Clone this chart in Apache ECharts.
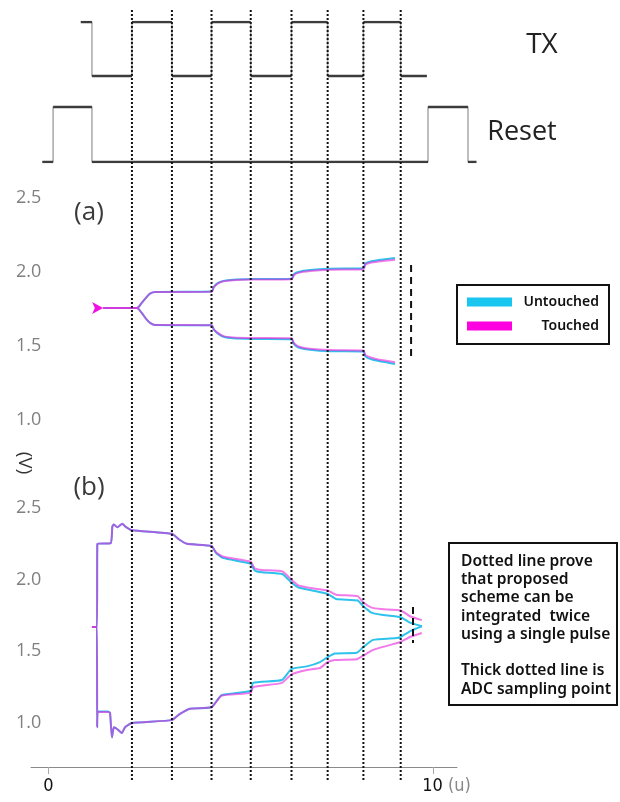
<!DOCTYPE html>
<html>
<head>
<meta charset="utf-8">
<script src="https://cdn.jsdelivr.net/npm/echarts@6/dist/echarts.min.js"></script>
<style>
  html, body { margin: 0; padding: 0; background: #fff; }
  #chart { width: 620px; height: 802px; }
</style>
</head>
<body>
<div id="chart"></div>
<script>
// ---- data (time in u, voltage in V) ----
// timing diagram: edge times and logic states
const txTimes = [0.84, 1.13, 2.17, 3.21, 4.24, 5.26, 6.32, 7.26, 8.19, 9.16, 9.84];
const txStates = [1, 0, 1, 0, 1, 0, 1, 0, 1, 0, 0];
const resetTimes = [-0.16, 0.12, 1.13, 9.87, 10.91, 11.13];
const resetStates = [0, 1, 0, 1, 0, 0];

// integration boundaries (dotted lines)
const dottedX = [2.17, 3.21, 4.24, 5.26, 6.32, 7.26, 8.19, 9.16];

// panel (a)
const aTime = [1.42, 2.30, 2.42, 2.55, 2.65, 2.77, 4.24, 4.30, 4.40, 4.55, 4.80, 5.30, 6.32, 6.38, 6.50, 6.80, 7.30, 8.19, 8.24, 8.40, 8.70, 9.01];
const aUpUntouched = [1.757, 1.757, 1.79, 1.83, 1.855, 1.865, 1.868, 1.90, 1.925, 1.94, 1.948, 1.952, 1.955, 1.985, 2.0, 2.013, 2.022, 2.026, 2.057, 2.072, 2.085, 2.095];
const aUpTouched = [1.757, 1.757, 1.79, 1.83, 1.855, 1.865, 1.866, 1.897, 1.922, 1.937, 1.945, 1.949, 1.951, 1.978, 1.994, 2.006, 2.015, 2.019, 2.05, 2.064, 2.075, 2.083];
const aLowUntouched = [1.757, 1.757, 1.725, 1.68, 1.655, 1.642, 1.64, 1.61, 1.585, 1.562, 1.552, 1.548, 1.546, 1.515, 1.49, 1.475, 1.465, 1.462, 1.43, 1.41, 1.393, 1.378];
const aLowTouched = [1.757, 1.757, 1.725, 1.68, 1.655, 1.642, 1.641, 1.613, 1.589, 1.567, 1.558, 1.554, 1.552, 1.521, 1.497, 1.482, 1.473, 1.47, 1.44, 1.421, 1.403, 1.39];
const adcA = [[9.43, 2.047], [9.43, 1.426]];

// panel (b)
const bUpTime = [1.13, 1.26, 1.27, 1.62, 1.66, 1.70, 1.79, 1.92, 2.00, 2.17, 3.21, 3.40, 3.60, 4.24, 4.36, 4.55, 5.26, 5.36, 5.55, 6.08, 6.32, 6.50, 6.86, 7.26, 7.48, 8.04, 8.19, 8.40, 8.66, 9.16, 9.40, 9.71];
const bUpTouched = [1.67, 1.67, 2.25, 2.255, 2.37, 2.385, 2.365, 2.39, 2.37, 2.345, 2.32, 2.28, 2.25, 2.235, 2.19, 2.16, 2.125, 2.08, 2.068, 2.058, 2.0, 1.96, 1.94, 1.925, 1.895, 1.885, 1.84, 1.805, 1.795, 1.785, 1.745, 1.718];
const bUpUntouched = [1.67, 1.67, 2.25, 2.255, 2.37, 2.385, 2.365, 2.39, 2.37, 2.345, 2.32, 2.28, 2.25, 2.235, 2.185, 2.15, 2.11, 2.065, 2.052, 2.04, 1.98, 1.945, 1.925, 1.90, 1.865, 1.855, 1.815, 1.77, 1.755, 1.738, 1.70, 1.675];
const bLowTime = [1.13, 1.26, 1.265, 1.28, 1.55, 1.60, 1.65, 1.70, 1.80, 1.91, 1.99, 2.17, 3.21, 3.40, 3.68, 4.24, 4.50, 5.26, 5.32, 6.07, 6.32, 6.72, 7.06, 7.26, 7.45, 8.02, 8.19, 8.44, 9.06, 9.16, 9.40, 9.71];
const bLowTouched = [1.67, 1.67, 0.97, 1.076, 1.076, 1.07, 0.90, 0.97, 0.955, 0.93, 0.97, 1.0, 1.02, 1.06, 1.10, 1.11, 1.19, 1.21, 1.25, 1.28, 1.34, 1.37, 1.384, 1.425, 1.44, 1.445, 1.47, 1.51, 1.558, 1.565, 1.60, 1.628];
const bLowUntouched = [1.67, 1.67, 0.97, 1.08, 1.08, 1.07, 0.90, 0.97, 0.955, 0.93, 0.97, 1.0, 1.02, 1.06, 1.10, 1.11, 1.195, 1.223, 1.28, 1.30, 1.377, 1.395, 1.425, 1.46, 1.485, 1.49, 1.53, 1.58, 1.593, 1.60, 1.64, 1.675];
const adcB = [[9.48, 1.81], [9.48, 1.558]];

const yTicks = [1.0, 1.5, 2.0, 2.5];
const xTicks = [0, 10];

// ---- layout / style ----
const CYAN = '#2ec2ec';
const MAGENTA = '#e826dc';
const FONT = "'Open Sans', 'Noto Sans', sans-serif";
const NARROW = "'Liberation Sans Narrow', 'DejaVu Sans Condensed', sans-serif";
const X0 = -0.455;          // left end of the axis line
const PPU = 38.45;          // pixels per u
const LEFT = 31;
const WIDE = 449, NARR = 426;

// logic levels in the timing grid
const TX_LO = 0.614, TX_HI = 1.0, RS_LO = 0, RS_HI = 0.393;

const zip = (t, v) => t.map((x, i) => [x, v[i]]);

function stepPts(times, states, lo, hi) {
  return times.map((t, i) => [t, states[i] ? hi : lo]);
}
// flat (dark) parts of a step waveform, broken between segments
function flatPts(times, states, lo, hi) {
  const out = [];
  for (let i = 0; i < times.length - 1; i++) {
    const y = states[i] ? hi : lo;
    out.push([times[i], y], [times[i + 1], y], [times[i + 1], '-']);
  }
  return out;
}

const chart = echarts.init(document.getElementById('chart'));

const hiddenX = (grid, w) => ({
  type: 'value', gridIndex: grid, min: X0, max: X0 + w / PPU, show: false
});
const voltY = (grid) => ({
  type: 'value', gridIndex: grid, min: 1.0, max: 2.5, interval: 0.5,
  axisLine: { show: false }, axisTick: { show: false }, splitLine: { show: false },
  axisLabel: {
    align: 'left', margin: 15, fontSize: 18, color: '#808080', fontFamily: FONT,
    formatter: v => yTicks.includes(+v.toFixed(1)) ? v.toFixed(1) : ''
  }
});

const trace = (name, color, grid, data, extra) => Object.assign({
  name, type: 'line', xAxisIndex: grid, yAxisIndex: grid, data,
  symbol: 'none', smooth: 0.25, clip: false, silent: true,
  color,
  lineStyle: { width: 2, color, opacity: color === MAGENTA ? 0.62 : 1 }
}, extra || {});

const series = [
  // timing diagram
  { type: 'line', xAxisIndex: 0, yAxisIndex: 0, step: 'end', symbol: 'none', silent: true,
    data: stepPts(txTimes, txStates, TX_LO, TX_HI), lineStyle: { color: '#a8a8a8', width: 1.5 } },
  { type: 'line', xAxisIndex: 0, yAxisIndex: 0, symbol: 'none', silent: true,
    data: flatPts(txTimes, txStates, TX_LO, TX_HI), lineStyle: { color: '#3c3c3c', width: 2.5 } },
  { type: 'line', xAxisIndex: 0, yAxisIndex: 0, step: 'end', symbol: 'none', silent: true,
    data: stepPts(resetTimes, resetStates, RS_LO, RS_HI), lineStyle: { color: '#a8a8a8', width: 1.5 } },
  { type: 'line', xAxisIndex: 0, yAxisIndex: 0, symbol: 'none', silent: true,
    data: flatPts(resetTimes, resetStates, RS_LO, RS_HI), lineStyle: { color: '#3c3c3c', width: 2.5 } },

  // panel (a)
  trace('Untouched', CYAN, 1, zip(aTime, aUpUntouched)),
  trace('Untouched', CYAN, 1, zip(aTime, aLowUntouched)),
  trace('Touched', MAGENTA, 1, zip(aTime, aUpTouched)),
  trace('Touched', MAGENTA, 1, zip(aTime, aLowTouched).map((p, i) => i === 0
    ? { value: p, symbol: 'arrow', symbolSize: [9, 11], symbolRotate: -90, itemStyle: { color: '#f010e0' } }
    : p), { showSymbol: true }),
  { type: 'line', xAxisIndex: 1, yAxisIndex: 1, data: adcA, symbol: 'none', silent: true,
    lineStyle: { color: '#111', width: 2, type: [7, 5] } },

  // panel (b)
  trace('Untouched', CYAN, 2, zip(bUpTime, bUpUntouched), { smooth: 0.15 }),
  trace('Untouched', CYAN, 2, zip(bLowTime, bLowUntouched), { smooth: 0.15 }),
  trace('Touched', MAGENTA, 2, zip(bUpTime, bUpTouched), { smooth: 0.15 }),
  trace('Touched', MAGENTA, 2, zip(bLowTime, bLowTouched), { smooth: 0.15 }),
  { type: 'line', xAxisIndex: 2, yAxisIndex: 2, data: adcB, symbol: 'none', silent: true,
    lineStyle: { color: '#111', width: 2, type: [7, 4] } }
];

// dotted integration boundaries across the whole figure
dottedX.forEach(x => series.push({
  type: 'line', xAxisIndex: 3, yAxisIndex: 3, data: [[x, 0], [x, 1]],
  symbol: 'none', silent: true, z: 5,
  lineStyle: { color: '#111', width: 2, type: [2, 2] }
}));

const option = {
  animation: false,
  backgroundColor: '#fff',
  grid: [
    { left: LEFT, top: 22, width: WIDE, height: 140 },
    { left: LEFT, top: 198, width: NARR, height: 222 },
    { left: LEFT, top: 508, width: NARR, height: 215 },
    { left: LEFT, top: 8, width: WIDE, height: 772 }
  ],
  xAxis: [
    hiddenX(0, WIDE),
    hiddenX(1, NARR),
    {
      type: 'value', gridIndex: 2, min: X0, max: X0 + NARR / PPU, offset: 44,
      splitLine: { show: false },
      axisLine: { lineStyle: { color: '#8a8a8a', width: 1 } },
      axisTick: { customValues: xTicks, length: 7, lineStyle: { color: '#aaa' } },
      axisLabel: {
        customValues: xTicks, margin: 10, fontSize: 18, color: '#111', fontFamily: NARROW,
        formatter: v => v === 0 ? '0' : '{sp|}10 {u|(u)}',
        rich: { sp: { width: 27 }, u: { color: '#888', fontSize: 18, fontFamily: NARROW } }
      }
    },
    hiddenX(3, WIDE)
  ],
  yAxis: [
    { type: 'value', gridIndex: 0, min: 0, max: 1, show: false },
    voltY(1),
    voltY(2),
    { type: 'value', gridIndex: 3, min: 0, max: 1, show: false }
  ],
  legend: {
    data: [
      { name: 'Untouched', itemStyle: { color: '#18c6f0', opacity: 1 } },
      { name: 'Touched', itemStyle: { color: '#ff00e0', opacity: 1 } }
    ],
    orient: 'vertical', left: 457, top: 285,
    padding: [10, 10, 11, 10], itemGap: 10, itemWidth: 45, itemHeight: 9, icon: 'rect',
    borderColor: '#111', borderWidth: 2,
    formatter: n => '{t|' + n + '}',
    textStyle: {
      rich: { t: { width: 82, align: 'right', fontSize: 14, fontWeight: 600, color: '#111', lineHeight: 18, fontFamily: "'Noto Sans', sans-serif" } }
    }
  },
  title: {
    text: 'Dotted line prove\nthat proposed\nscheme can be\nintegrated  twice\nusing a single pulse\n\nThick dotted line is\nADC sampling point',
    left: 449, top: 543,
    borderColor: '#111', borderWidth: 2, padding: [9, 6, 7, 12],
    textStyle: { fontSize: 15.6, fontWeight: 600, color: '#111', lineHeight: 18.3, fontFamily: "'Noto Sans', sans-serif" }
  },
  graphic: [
    { type: 'text', x: 542, y: 45, style: { text: 'TX', font: "28px " + FONT, fill: '#222', align: 'center', verticalAlign: 'middle' } },
    { type: 'text', x: 522, y: 132, style: { text: 'Reset', font: "27px " + FONT, fill: '#222', align: 'center', verticalAlign: 'middle' } },
    { type: 'text', x: 89, y: 213, style: { text: '(a)', font: "26px " + FONT, fill: '#3a3a3a', align: 'center', verticalAlign: 'middle' } },
    { type: 'text', x: 89, y: 488, style: { text: '(b)', font: "26px " + FONT, fill: '#3a3a3a', align: 'center', verticalAlign: 'middle' } },
    { type: 'text', x: 24, y: 463, rotation: -Math.PI / 2, style: { text: '(V)', font: "19px " + FONT, fill: '#333', align: 'center', verticalAlign: 'middle' } }
  ],
  series
};

chart.setOption(option);
</script>
</body>
</html>
